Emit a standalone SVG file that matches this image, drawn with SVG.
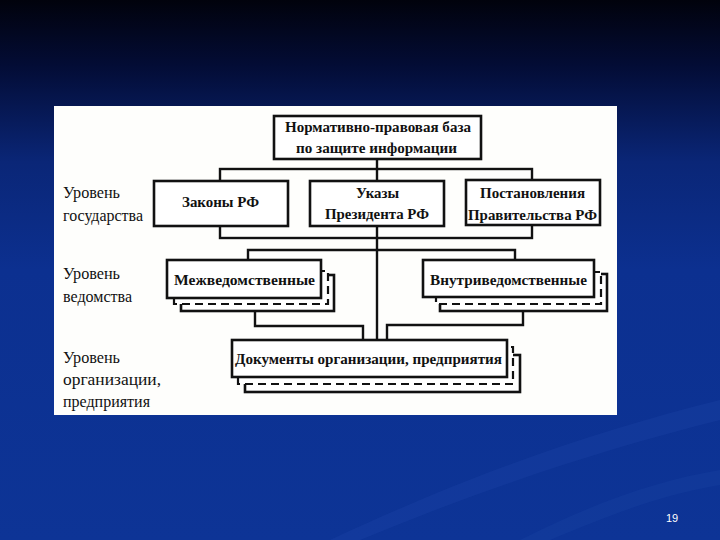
<svg xmlns="http://www.w3.org/2000/svg" width="720" height="540" viewBox="0 0 720 540">
<defs>
<linearGradient id="bg" x1="0" y1="0" x2="0" y2="1">
<stop offset="0" stop-color="#01020c"/>
<stop offset="0.12" stop-color="#030c35"/>
<stop offset="0.3" stop-color="#0a2677"/>
<stop offset="0.5" stop-color="#0c3090"/>
<stop offset="1" stop-color="#0d3496"/>
</linearGradient>
<style>
.box{fill:#fff;stroke:#111;stroke-width:2.6}
.dash{fill:#fff;stroke:#111;stroke-width:2.2;stroke-dasharray:8 5}
.ln{fill:none;stroke:#111;stroke-width:2.4}
.t{font-family:"Liberation Serif","Times New Roman",serif;font-weight:bold;font-size:15px;fill:#111}
.lb{font-family:"Liberation Serif","Times New Roman",serif;font-size:16px;fill:#111}
</style>
</defs>
<rect width="720" height="540" fill="url(#bg)"/>
<path d="M330 540 C480 470 600 430 720 400 L720 420 C600 450 480 490 360 540 Z" fill="#2a55b8" opacity="0.18"/>
<path d="M520 540 C600 500 660 480 720 470 L720 485 C660 495 610 515 550 540 Z" fill="#2a55b8" opacity="0.15"/>
<rect x="54" y="106" width="563" height="309" fill="#fefefc"/>

<g id="connectors">
<line class="ln" x1="377" y1="159" x2="377" y2="340"/>
<rect class="ln" x="220" y="169" width="312" height="69"/>
<polyline class="ln" points="248,260 248,250 515,250 515,260"/>
<polyline class="ln" points="255,311 255,326 363,326 363,340"/>
<polyline class="ln" points="523,311 523,325 387,325 387,340"/>
</g>

<g id="n-base">
<rect class="box" x="274" y="116" width="207" height="43"/>
<text class="t" x="285" y="132" textLength="186" lengthAdjust="spacingAndGlyphs">Нормативно-правовая база</text>
<text class="t" x="296" y="153" textLength="161" lengthAdjust="spacingAndGlyphs">по защите информации</text>
</g>

<g id="n-laws">
<rect class="box" x="154" y="181" width="134" height="45"/>
<text class="t" x="182" y="207" textLength="77" lengthAdjust="spacingAndGlyphs">Законы РФ</text>
</g>

<g id="n-decrees">
<rect class="box" x="310" y="181" width="134" height="45"/>
<text class="t" x="356" y="198" textLength="43" lengthAdjust="spacingAndGlyphs">Указы</text>
<text class="t" x="325" y="219" textLength="104" lengthAdjust="spacingAndGlyphs">Президента РФ</text>
</g>

<g id="n-resolutions">
<rect class="box" x="466" y="180" width="134" height="45"/>
<text class="t" x="480" y="198" textLength="105" lengthAdjust="spacingAndGlyphs">Постановления</text>
<text class="t" x="468" y="220" textLength="129" lengthAdjust="spacingAndGlyphs">Правительства РФ</text>
</g>

<g id="n-inter">
<rect class="box" x="181" y="275" width="153" height="36"/>
<rect class="dash" x="174" y="271" width="154" height="33"/>
<rect class="box" x="167" y="260" width="154" height="38"/>
<text class="t" x="174" y="285" textLength="141" lengthAdjust="spacingAndGlyphs">Межведомственные</text>
</g>

<g id="n-intra">
<rect class="box" x="440" y="274" width="167" height="37"/>
<rect class="dash" x="436" y="272" width="165" height="32"/>
<rect class="box" x="423" y="260" width="171" height="37"/>
<text class="t" x="430" y="285" textLength="157" lengthAdjust="spacingAndGlyphs">Внутриведомственные</text>
</g>

<g id="n-docs">
<rect class="box" x="245" y="355" width="275" height="37"/>
<rect class="dash" x="238" y="347" width="275" height="37"/>
<rect class="box" x="232" y="340" width="275" height="37"/>
<text class="t" x="235" y="364" textLength="267" lengthAdjust="spacingAndGlyphs">Документы организации, предприятия</text>
</g>

<g id="levels">
<text class="lb" x="63" y="198" textLength="57" lengthAdjust="spacingAndGlyphs">Уровень</text>
<text class="lb" x="63" y="221" textLength="80" lengthAdjust="spacingAndGlyphs">государства</text>
<text class="lb" x="63" y="279" textLength="57" lengthAdjust="spacingAndGlyphs">Уровень</text>
<text class="lb" x="63" y="302" textLength="69" lengthAdjust="spacingAndGlyphs">ведомства</text>
<text class="lb" x="63" y="363" textLength="57" lengthAdjust="spacingAndGlyphs">Уровень</text>
<text class="lb" x="63" y="385" textLength="98" lengthAdjust="spacingAndGlyphs">организации,</text>
<text class="lb" x="63" y="407" textLength="87" lengthAdjust="spacingAndGlyphs">предприятия</text>
</g>

<text x="666" y="522" font-family="Liberation Sans, Arial, sans-serif" font-size="11" fill="#fff">19</text>
</svg>
